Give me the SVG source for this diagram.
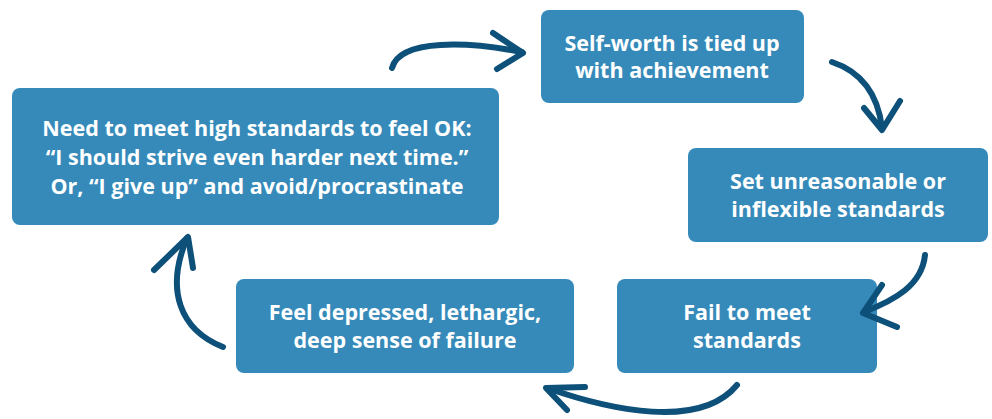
<svg xmlns="http://www.w3.org/2000/svg" width="992" height="419" viewBox="0 0 992 419">
<style>
.box{fill:#358ABA;}
.t{font-family:"Open Sans","Liberation Sans",sans-serif;font-weight:bold;font-size:21.5px;fill:#fff;text-anchor:middle;}
.c{fill:none;stroke:#0D5079;stroke-width:6;stroke-linecap:round;stroke-linejoin:round;}
</style>
<rect width="992" height="419" fill="#fff"/>
<g id="n1"><rect class="box" x="541" y="10" width="263" height="93" rx="8"/>
<text class="t" x="672" y="51">Self-worth is tied up</text>
<text class="t" x="672" y="78">with achievement</text></g>
<g id="n2"><rect class="box" x="688" y="148" width="300" height="94" rx="8"/>
<text class="t" x="838" y="189">Set unreasonable or</text>
<text class="t" x="838" y="217">inflexible standards</text></g>
<g id="n3"><rect class="box" x="617" y="279" width="260" height="94" rx="8"/>
<text class="t" x="747" y="320">Fail to meet</text>
<text class="t" x="747" y="348">standards</text></g>
<g id="n4"><rect class="box" x="236" y="279" width="338" height="94" rx="8"/>
<text class="t" x="405" y="320">Feel depressed, lethargic,</text>
<text class="t" x="405" y="348">deep sense of failure</text></g>
<g id="n5"><rect class="box" x="12" y="88" width="487" height="137" rx="8"/>
<text class="t" x="257" y="136">Need to meet high standards to feel OK:</text>
<text class="t" x="257" y="165">“I should strive even harder next time.”</text>
<text class="t" x="257" y="194">Or, “I give up” and avoid/procrastinate</text></g>
<g id="connectors">
<path class="c" d="M392,68 C400,38 470,42 522,52"/>
<path class="c" d="M493,33 L523,53 L497,69"/>
<path class="c" d="M832,62 C862,72 878,95 882,128"/>
<path class="c" d="M864,108 L882,130 L900,101"/>
<path class="c" d="M925,255 C922,285 895,300 864,312"/>
<path class="c" d="M882,285 L863,313 L897,327"/>
<path class="c" d="M737,385 C700,430 610,410 547,388"/>
<path class="c" d="M585,387 L546,388 L567,410"/>
<path class="c" d="M223,347 C180,330 165,290 187,238"/>
<path class="c" d="M154,270 L188,237 L193,268"/>
</g>
</svg>
